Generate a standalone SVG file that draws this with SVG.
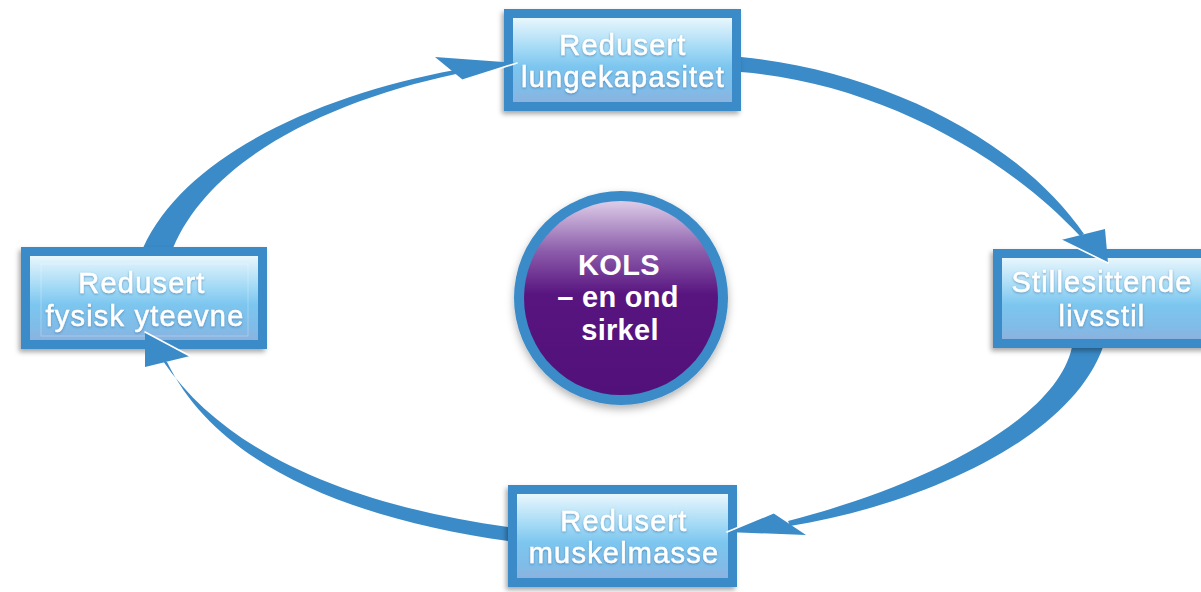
<svg xmlns="http://www.w3.org/2000/svg" width="1201" height="592" viewBox="0 0 1201 592">
<defs>
<linearGradient id="boxFill" x1="0" y1="0" x2="0" y2="1">
<stop offset="0" stop-color="#e8f6fd"/>
<stop offset="0.35" stop-color="#a6dbf6"/>
<stop offset="0.58" stop-color="#7cc6ef"/>
<stop offset="0.85" stop-color="#80bce8"/>
<stop offset="1" stop-color="#8cb2df"/>
</linearGradient>
<linearGradient id="purple" x1="0" y1="0" x2="0" y2="1">
<stop offset="0" stop-color="#ddcde8"/>
<stop offset="0.26" stop-color="#8c5cab"/>
<stop offset="0.48" stop-color="#581580"/>
<stop offset="1" stop-color="#52107a"/>
</linearGradient>
<filter id="shadow" x="-10%" y="-10%" width="120%" height="130%">
<feDropShadow dx="-2" dy="3" stdDeviation="2.5" flood-color="#000" flood-opacity="0.35"/>
</filter>
<filter id="cshadow" x="-10%" y="-10%" width="120%" height="130%">
<feDropShadow dx="0" dy="4" stdDeviation="4" flood-color="#000" flood-opacity="0.3"/>
</filter>
<filter id="tshadow" x="-10%" y="-20%" width="120%" height="140%">
<feDropShadow dx="0" dy="1" stdDeviation="1" flood-color="#1d5a8a" flood-opacity="0.5"/>
</filter>
</defs>
<style>
.frame{fill:#3a8bc8}
.inner{fill:url(#boxFill)}
.lbl{font-family:"Liberation Sans",Arial,sans-serif;font-size:29px;letter-spacing:1.2px;fill:#ffffff;stroke:#ffffff;stroke-width:0.5px;text-anchor:middle}
.ctr{font-family:"Liberation Sans",Arial,sans-serif;font-size:29px;font-weight:bold;letter-spacing:0.3px;fill:#ffffff;text-anchor:middle}
.shaft{fill:#3a8bc8}
.head{fill:#3a8bc8}
.hl{stroke:#ffffff;stroke-width:1.6;fill:none;stroke-linecap:round}
</style>
<rect width="1201" height="592" fill="#ffffff"/>

<g id="connectors">
<path class="shaft" d="M143,248 C185,155 320,95 455,70 L456,74 C325,102 210,160 173,248 Z"/>
<path class="shaft" d="M741,57 C880,70 1020,140 1084,234 L1080,236 C1000,150 870,82 741,72 Z"/>
<path class="shaft" d="M1103,347 C1070,440 920,505 790,526 L788,521 C910,490 1055,425 1072,347 Z"/>
<path class="shaft" d="M508,541 C360,520 220,470 167,362 L163,361 C230,460 365,507 508,527 Z"/>
</g>

<g id="node-top" filter="url(#shadow)">
<rect class="frame" x="504" y="9" width="237" height="102"/>
<rect class="inner" x="513" y="18" width="219" height="84"/>
</g>
<g id="node-right" filter="url(#shadow)">
<rect class="frame" x="993" y="249" width="216" height="99"/>
<rect class="inner" x="1002" y="258" width="210" height="81"/>
</g>
<g id="node-bottom" filter="url(#shadow)">
<rect class="frame" x="508" y="485" width="229" height="102"/>
<rect class="inner" x="517" y="494" width="211" height="84"/>
</g>
<g id="node-left" filter="url(#shadow)">
<rect class="frame" x="21" y="247" width="246" height="102"/>
<rect class="inner" x="30" y="256" width="228" height="84"/>
<rect x="41" y="264" width="207" height="72" fill="none" stroke="#ffffff" stroke-opacity="0.35" stroke-width="0.8"/>
</g>

<g id="arrowheads">
<polygon class="head" points="435,57 517,63 463,80"/>
<line class="hl" x1="517" y1="63" x2="463" y2="80"/>
<polygon class="head" points="1061,240 1105,229 1108,263"/>
<line class="hl" x1="1061" y1="240" x2="1108" y2="263"/>
<polygon class="head" points="727,532 773,513 806,535"/>
<line class="hl" x1="727" y1="532" x2="773" y2="513"/>
<polygon class="head" points="145,332 145,367 190,356"/>
<line class="hl" x1="145" y1="332" x2="190" y2="356"/>
</g>

<g id="labels" filter="url(#tshadow)">
<text class="lbl" x="623" y="55">Redusert</text>
<text class="lbl" x="623" y="87">lungekapasitet</text>
<text class="lbl" x="1102" y="292">Stillesittende</text>
<text class="lbl" x="1102" y="326">livsstil</text>
<text class="lbl" x="624" y="531">Redusert</text>
<text class="lbl" x="624" y="563">muskelmasse</text>
<text class="lbl" x="142" y="293">Redusert</text>
<text class="lbl" x="145" y="326">fysisk yteevne</text>
</g>

<g id="node-center">
<circle cx="621" cy="298" r="107" fill="#3a8bc8" filter="url(#cshadow)"/>
<circle cx="621" cy="298" r="97" fill="url(#purple)"/>
<text class="ctr" x="619" y="275">KOLS</text>
<text class="ctr" x="618" y="307">– en ond</text>
<text class="ctr" x="620" y="340">sirkel</text>
</g>
</svg>
